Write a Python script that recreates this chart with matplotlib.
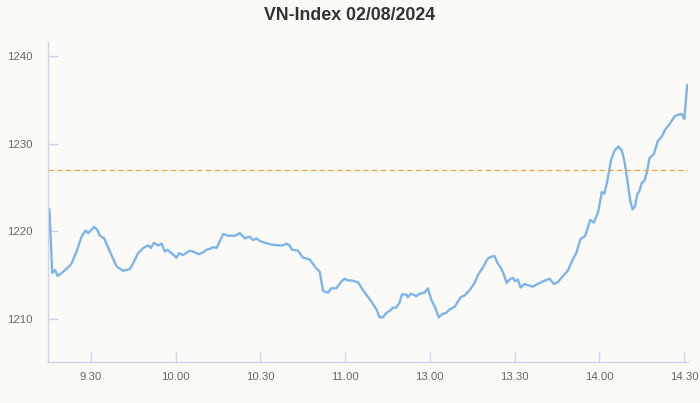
"""VN-Index intraday line for 02/08/2024 (lunch break squeezed out of the time axis)."""

import matplotlib

matplotlib.use("Agg")
import matplotlib.pyplot as plt

# x = trading minutes since 9:15, with 11:30-13:00 removed
MINUTES = [
    0.3, 1.3, 2.3, 3.2, 5.2, 7.6, 8.2, 9.9, 11.7, 13.1, 14.0, 16.2, 17.2, 18.2,
    19.7, 21.7, 24.1, 26.4, 28.8, 30.0, 31.7, 33.5, 35.3, 36.2, 37.3, 38.8,
    40.0, 41.2, 42.1, 43.5, 45.3, 46.2, 47.6, 50.0, 51.8, 53.2, 54.7, 55.9,
    57.1, 58.3, 59.5, 61.8, 63.6, 65.9, 67.7, 69.5, 71.2, 72.4, 73.6, 74.8,
    76.6, 78.9, 81.3, 83.0, 84.2, 85.4, 86.2, 88.3, 90.1, 92.5, 94.2, 96.0,
    97.2, 98.9, 100.1, 101.9, 103.7, 104.8, 106.0, 107.2, 109.6, 111.3, 114.3,
    116.1, 117.2, 118.4, 119.6, 121.1, 121.9, 123.1, 124.3, 125.1, 126.7,
    127.2, 128.4, 130.2, 131.4, 133.1, 134.3, 135.5, 136.9, 138.1, 139.6,
    140.8, 142.0, 143.8, 145.9, 147.3, 149.1, 150.8, 152.0, 153.8, 155.5,
    156.7, 157.9, 158.9, 160.0, 161.2, 162.2, 163.2, 164.4, 165.2, 166.2,
    167.1, 168.5, 170.3, 171.5, 173.2, 175.0, 177.4, 178.9, 180.3, 182.1,
    183.8, 185.6, 186.8, 188.3, 190.0, 191.8, 193.0, 194.5, 195.9, 196.8,
    197.8, 199.2, 200.4, 201.8, 203.0, 203.9, 204.9, 206.0, 206.8, 207.7,
    208.4, 209.2, 210.0, 211.0, 211.9, 212.8, 214.3, 215.7, 217.1, 218.3,
    219.8, 221.6, 223.0, 224.2, 225.1, 226.1,
]
INDEX = [
    1222.5, 1215.25, 1215.6, 1214.9, 1215.4, 1216.1, 1216.4, 1217.7, 1219.4,
    1220.1, 1219.8, 1220.5, 1220.2, 1219.5, 1219.2, 1217.7, 1216.0, 1215.5,
    1215.7, 1216.4, 1217.5, 1218.1, 1218.4, 1218.1, 1218.7, 1218.4, 1218.6,
    1217.7, 1217.9, 1217.5, 1217.0, 1217.5, 1217.3, 1217.8, 1217.6, 1217.4,
    1217.6, 1217.9, 1218.0, 1218.2, 1218.1, 1219.7, 1219.5, 1219.5, 1219.8,
    1219.2, 1219.4, 1219.0, 1219.2, 1218.9, 1218.7, 1218.5, 1218.4, 1218.4,
    1218.6, 1218.4, 1217.9, 1217.8, 1217.0, 1216.8, 1216.0, 1215.4, 1213.2,
    1213.0, 1213.5, 1213.5, 1214.3, 1214.6, 1214.4, 1214.4, 1214.2, 1213.3,
    1212.0, 1211.1, 1210.2, 1210.2, 1210.7, 1211.0, 1211.3, 1211.3, 1211.9,
    1212.8, 1212.8, 1212.5, 1212.9, 1212.6, 1212.9, 1213.0, 1213.5, 1212.2,
    1211.3, 1210.2, 1210.6, 1210.7, 1211.1, 1211.4, 1212.5, 1212.7, 1213.3,
    1214.1, 1215.0, 1215.9, 1216.9, 1217.1, 1217.2, 1216.4, 1215.9, 1215.1,
    1214.1, 1214.5, 1214.7, 1214.3, 1214.5, 1213.6, 1214.0, 1213.8,
    1213.7, 1214.0, 1214.3, 1214.6, 1214.0, 1214.2, 1214.9, 1215.5, 1216.8,
    1217.5, 1219.1, 1219.5, 1221.3, 1221.0, 1222.1, 1224.5, 1224.3, 1225.7,
    1228.2, 1229.2, 1229.7, 1229.2, 1228.0, 1225.9, 1223.4, 1222.5,
    1222.9, 1224.2, 1224.6, 1225.5, 1225.8, 1226.8, 1228.4, 1228.8, 1230.3,
    1230.8, 1231.6, 1232.2, 1233.1, 1233.3, 1233.4, 1232.8, 1236.7,
]
REFERENCE = 1227.0  # previous close
TICK_MINUTES = [15, 45, 75, 105, 135, 165, 195, 225]
TICK_LABELS = ["9.30", "10.00", "10.30", "11.00", "13.00", "13.30", "14.00", "14.30"]
Y_TICKS = [1210, 1220, 1230, 1240]

BG = "#fbfaf7"
AXIS = "#ccd6eb"

plt.rcParams["font.family"] = ["Liberation Sans", "DejaVu Sans"]

fig = plt.figure(figsize=(7, 4.03), dpi=100, facecolor=BG)
ax = fig.add_axes([48 / 700, 41 / 403, 640 / 700, 320 / 403], facecolor=BG)

ax.plot(MINUTES, INDEX, color="#7cb5ec", lw=1.7, solid_joinstyle="round")
ax.axhline(REFERENCE, color="#eba23a", lw=0.9, ls=(0, (4, 3)))

ax.set_xlim(-0.2, 226.4)
ax.set_ylim(1205.1, 1241.6)
ax.set_xticks(TICK_MINUTES, TICK_LABELS)
ax.set_yticks(Y_TICKS)

for side in ("top", "right"):
    ax.spines[side].set_visible(False)
for side in ("left", "bottom"):
    ax.spines[side].set_color(AXIS)
    ax.spines[side].set_linewidth(1.0)
ax.tick_params(axis="both", direction="in", length=7.5, width=1.0, color=AXIS,
               labelcolor="#666666", labelsize=8.2)
ax.tick_params(axis="y", pad=11)
ax.tick_params(axis="x", pad=7)

fig.text(0.499, 0.962, "VN-Index 02/08/2024", ha="center", va="center",
         fontsize=12.8, fontweight="bold", color="#333333")

fig.savefig("out.png", dpi=100, facecolor=BG)
